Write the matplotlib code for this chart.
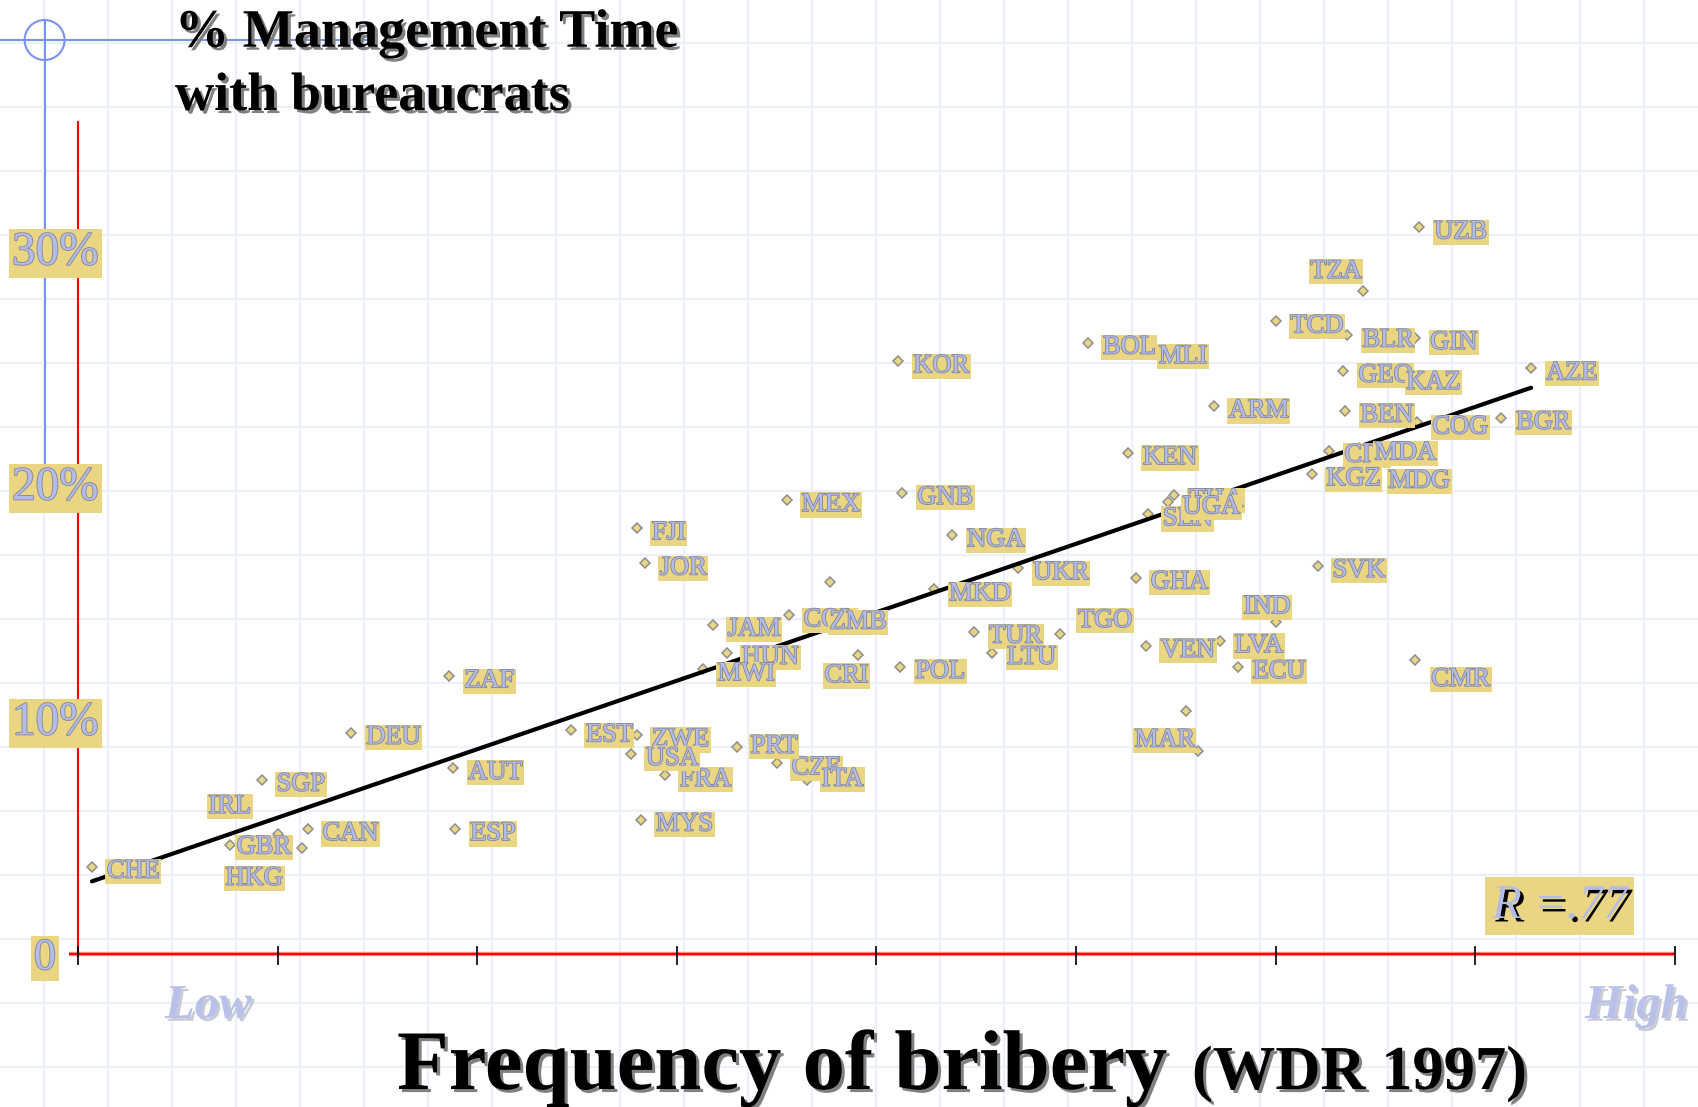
import matplotlib
matplotlib.use("Agg")
import matplotlib.pyplot as plt
import matplotlib.patheffects as pe
from matplotlib.patches import Circle
import numpy as np

# country code, position on the bribery scale (0 = low ... 8 = high), % management time
codes = ["CHE", "GBR", "HKG", "IRL", "SGP", "CAN", "DEU", "ZAF", "AUT", "ESP",
         "EST", "ZWE", "FRA", "USA", "MYS", "CZE", "PRT", "ITA", "FJI", "JOR",
         "MEX", "JAM", "HUN", "MWI", "COL", "ZMB", "CRI", "", "KOR", "GNB",
         "NGA", "MKD", "POL", "TUR", "LTU", "UKR", "TGO", "BOL", "MLI", "KEN",
         "GHA", "VEN", "SEN", "THA", "UGA", "ARM", "LVA", "ECU", "IND", "MAR",
         "", "TCD", "TZA", "UZB", "BLR", "GIN", "GEO", "KAZ", "BEN", "COG",
         "BGR", "AZE", "CIV", "MDA", "KGZ", "MDG", "SVK", "CMR"]
bribery = [0.07, 0.76, 1.00, 1.12, 0.92, 1.15, 1.37, 1.86, 1.88, 1.89,
           2.47, 2.80, 2.94, 2.77, 2.82, 3.50, 3.30, 3.65, 2.80, 2.84,
           3.55, 3.18, 3.25, 3.13, 3.56, 3.69, 3.91, 3.77, 4.11, 4.13,
           4.38, 4.29, 4.12, 4.49, 4.58, 4.71, 4.92, 5.06, 5.34, 5.26,
           5.30, 5.35, 5.36, 5.49, 5.46, 5.69, 5.72, 5.81, 6.00, 5.55,
           5.61, 6.00, 6.44, 6.72, 6.36, 6.70, 6.34, 6.58, 6.35, 6.71,
           7.13, 7.28, 6.27, 6.42, 6.18, 6.49, 6.21, 6.70]
mgmt_time = [3.7, 4.6, 5.1, 4.5, 7.4, 5.3, 9.4, 11.8, 7.9, 5.3,
             9.5, 9.3, 7.6, 8.5, 5.7, 8.1, 8.8, 7.4, 18.1, 16.6,
             19.3, 14.0, 12.8, 12.1, 14.4, 14.3, 12.7, 15.8, 25.2, 19.6,
             17.8, 15.5, 12.2, 13.7, 12.8, 16.4, 13.6, 26.0, 25.6, 21.3,
             16.0, 13.1, 18.7, 19.5, 19.2, 23.3, 13.3, 12.2, 14.1, 10.3,
             8.6, 26.9, 28.2, 30.9, 26.3, 26.2, 24.8, 24.5, 23.1, 22.6,
             22.8, 24.9, 21.4, 21.5, 20.4, 20.3, 16.5, 12.5]

y_ticks = [0, 10, 20, 30]
y_tick_labels = ["0", "10%", "20%", "30%"]
x_ticks = list(range(9))
r_text = "R =.77"

# labels that were dragged away from their default spot (pixels: right, down)
label_nudge = {"TZA": (-53, -19), "CRI": (-34, 21), "TGO": (18, -13), "IND": (-32, -15),
               "CMR": (16, 20), "MAR": (-51, 29), "GBR": (7, 2), "HKG": (-52, 45),
               "IRL": (-93, -41), "PRT": (14, 0), "ITA": (15, 0)}

SERIF = "Liberation Serif"
GOLD = "#EAD682"
LAVENDER = "#B4BCEA"
W, H = 1699, 1107
X0, XU = 78, 199.6     # pixel of x=0, pixels per unit
Y0, YU = 953.5, 23.5   # pixel of y=0, pixels per percent

fig = plt.figure(figsize=(W / 100, H / 100), dpi=100)
fig.patch.set_facecolor("white")

# background: grid paper, blue corner mark, headings
bg = fig.add_axes([0, 0, 1, 1])
bg.set_xlim(0, W)
bg.set_ylim(H, 0)
bg.axis("off")
for g in np.arange(44, W, 64):
    bg.axvline(g, color="#ECF0FB", lw=1.6, zorder=0)
for g in np.arange(43, H, 64):
    bg.axhline(g, color="#ECF0FB", lw=1.6, zorder=0)

blue = "#7A92F0"
bg.plot([0, 375], [40, 40], color=blue, lw=1.5, zorder=1)
bg.plot([44.6, 44.6], [20, 510], color=blue, lw=1.5, zorder=1)
bg.add_patch(Circle((44.6, 40), 20, fill=False, ec=blue, lw=1.5, zorder=1))

shadow = [pe.SimplePatchShadow(offset=(2.2, -2.2), shadow_rgbFace="#808080", alpha=1.0), pe.Normal()]
bg.text(175, 46.7, "% Management Time", fontsize=39, fontweight="bold", family=SERIF,
        va="baseline", ha="left", color="black", path_effects=shadow, zorder=3)
bg.text(175, 110, "with bureaucrats", fontsize=39, fontweight="bold", family=SERIF,
        va="baseline", ha="left", color="black", path_effects=shadow, zorder=3)
bg.text(397, 1089, "Frequency of bribery", fontsize=61, fontweight="bold", family=SERIF,
        va="baseline", ha="left", color="black", path_effects=shadow, zorder=3)
bg.text(1192, 1089, "(WDR 1997)", fontsize=45, fontweight="bold", family=SERIF,
        va="baseline", ha="left", color="black", path_effects=shadow, zorder=3)

soft = [pe.SimplePatchShadow(offset=(2, -2), shadow_rgbFace="#C8CBD6", alpha=1.0), pe.Normal()]
bg.text(165, 1018, "Low", fontsize=35, fontweight="bold", style="italic", family=SERIF,
        va="baseline", ha="left", color="#B9C1EA", path_effects=soft, zorder=3)
bg.text(1585, 1018, "High", fontsize=35, fontweight="bold", style="italic", family=SERIF,
        va="baseline", ha="left", color="#B9C1EA", path_effects=soft, zorder=3)

# data axes
ax = fig.add_axes([0, 0, 1, 1])
ax.set_xlim(-X0 / XU, (W - X0) / XU)
ax.set_ylim(-(H - Y0) / YU, Y0 / YU)
ax.axis("off")
ax.patch.set_visible(False)

# red axes with black ticks
ax.plot([-0.045, x_ticks[-1]], [0, 0], color="#FF9A9A", lw=3.2, zorder=2, solid_capstyle="butt")
ax.plot([-0.045, x_ticks[-1]], [0, 0], color="red", lw=1.6, zorder=2, solid_capstyle="butt")
ax.plot([0, 0], [-0.1, 35.4], color="red", lw=1.5, zorder=2)
ax.vlines(x_ticks, -0.49, 0.32, color="black", lw=1.2, zorder=3)
ax.hlines(y_ticks[1:], -0.03, 0.05, color="black", lw=1.2, zorder=3)

# country markers
ax.plot(bribery, mgmt_time, linestyle="none", marker="D", ms=5, mfc=GOLD, mec="#8E8E8E",
        mew=1.1, zorder=3)

# least squares line
slope, icpt = np.polyfit(bribery, mgmt_time, 1)
xs = np.array([min(bribery), max(bribery)])
ax.plot(xs, icpt + slope * xs, color="black", lw=3.0, zorder=4, solid_capstyle="round")

outline = [pe.Stroke(linewidth=1.3, foreground="#85889C"), pe.Normal()]
for i, (c, bx, my) in enumerate(zip(codes, bribery, mgmt_time)):
    if not c:
        continue
    dx, dy = label_nudge.get(c, (15, 5))
    ax.annotate(c, (bx, my), xytext=(dx * 0.72, -dy * 0.72), textcoords="offset points",
                ha="left", va="center", fontsize=19, family=SERIF, color=LAVENDER,
                path_effects=outline, zorder=5 + i * 0.01,
                bbox=dict(boxstyle="square,pad=0.06", fc=GOLD, ec="none"))

# y tick labels
ylab_tr = ax.get_yaxis_transform()
for v, t in zip(y_ticks, y_tick_labels):
    if t == "0":
        ax.text(45 / W, v - 0.2, t, transform=ylab_tr, ha="center", va="center", fontsize=32,
                family=SERIF, color=LAVENDER, path_effects=outline, zorder=20,
                bbox=dict(boxstyle="square,pad=0.06", fc=GOLD, ec="none"))
    else:
        ax.text(12 / W, v - 0.2, t, transform=ylab_tr, ha="left", va="center", fontsize=34,
                family=SERIF, color=LAVENDER, path_effects=outline, zorder=20,
                bbox=dict(boxstyle="square,pad=0.07", fc=GOLD, ec="none"))

# correlation note
dark = [pe.SimplePatchShadow(offset=(2.5, -2.5), shadow_rgbFace="black", alpha=1.0), pe.Normal()]
bg.text(1492, 918, r_text, fontsize=35, style="italic", family=SERIF, va="baseline", ha="left",
        color=LAVENDER, path_effects=dark, zorder=3,
        bbox=dict(boxstyle="square,pad=0.14", fc=GOLD, ec="none"))

fig.savefig("out.png", dpi=100, facecolor="white")
